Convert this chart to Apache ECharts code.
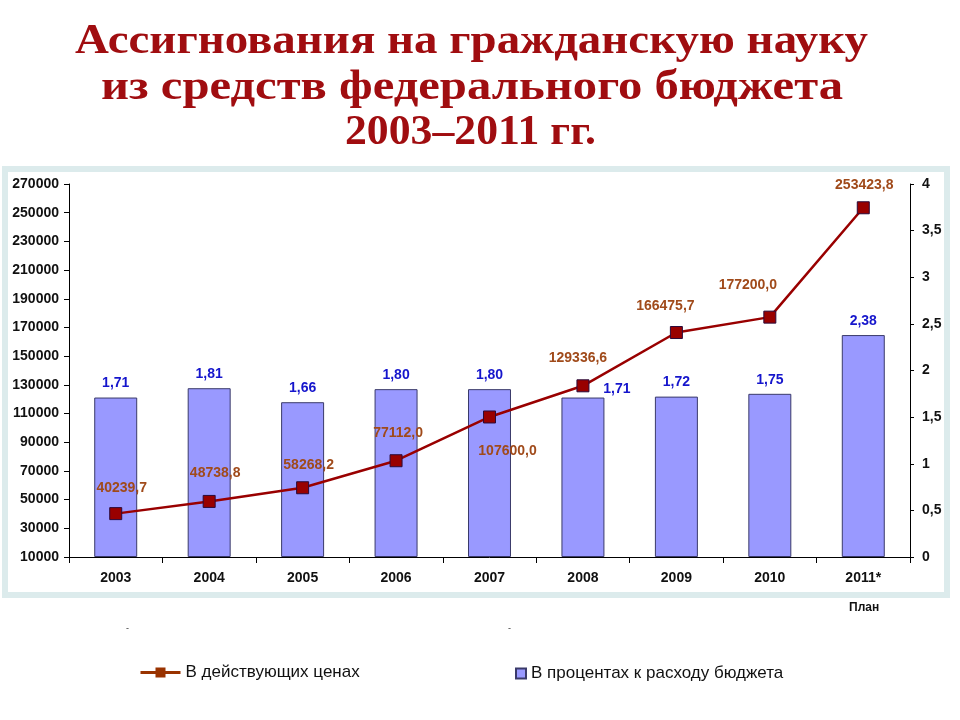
<!DOCTYPE html>
<html>
<head>
<meta charset="utf-8">
<script src="https://cdn.jsdelivr.net/npm/echarts@6/dist/echarts.min.js"></script>
<style>
html,body{margin:0;padding:0;background:#fff;}
#c{width:960px;height:720px;}
</style>
</head>
<body>
<div id="c"></div>
<script>
const years = ['2003','2004','2005','2006','2007','2008','2009','2010','2011*'];
const prices = [40239.7, 48738.8, 58268.2, 77112.0, 107600.0, 129336.6, 166475.7, 177200.0, 253423.8];
const percents = [1.71, 1.81, 1.66, 1.80, 1.80, 1.71, 1.72, 1.75, 2.38];
const lineName = 'В действующих ценах';
const barName = 'В процентах к расходу бюджета';
const titleLines = ['Ассигнования на гражданскую науку', 'из средств федерального бюджета', '2003–2011 гг.'];

// layout / style helpers (not data)
const lineLabelOffsets = [[6,-25],[6,-28],[6,-23],[2,-28],[18,34],[-5,-28],[-11,-26],[-22,-32],[1,-23]];
const barLabelOffsets = [[0,0],[0,0],[0,0],[0,0],[0,0],[34,6],[0,0],[0,0],[0,0]];
const titleY = [42, 88, 133];
const titleX = [471.5, 472, 470.5];
const titleW = [793, 742, 251];
const titleFont = 'bold 43px "Liberation Serif", serif';

const fmt = (v, d) => v.toFixed(d).replace('.', ',');
const mctx = document.createElement('canvas').getContext('2d');
mctx.font = titleFont;

const chart = echarts.init(document.getElementById('c'), null, {renderer:'canvas'});
chart.setOption({
  animation: false,
  backgroundColor: '#ffffff',
  textStyle: {fontFamily: 'Liberation Sans, Arial, sans-serif'},
  graphic: [
    {type:'rect', z:-10, shape:{x:5, y:169, width:942, height:426}, style:{fill:'#ffffff', stroke:'#dcebec', lineWidth:6}},
    {type:'text', left: 849, top: 602, style:{text:'План', fontSize:12, fontWeight:'bold', fill:'#111', fontFamily:'Liberation Sans, Arial, sans-serif'}},
    {type:'text', left: 126, top: 624, style:{text:'-', fontSize:9, fill:'#333'}},
    {type:'text', left: 508, top: 624, style:{text:'-', fontSize:9, fill:'#333'}}
  ].concat(titleLines.map((t,i)=>({
    type:'text', x:titleX[i], y:titleY[i],
    scaleX: titleW[i] / mctx.measureText(t).width,
    style:{text:t, textAlign:'center', textVerticalAlign:'middle', fill:'#a00d10',
      fontFamily:'"Liberation Serif", serif', fontWeight:'bold', fontSize:43}
  }))),
  legend: [
    {data:[{name:lineName, itemStyle:{color:'#993300', borderColor:'#993300'}, lineStyle:{color:'#993300', width:3}}],
     left:134, top:659, itemWidth:40, itemHeight:10, itemGap:5,
     textStyle:{fontSize:17, color:'#111'}},
    {data:[{name:barName, icon:'rect'}], left:510, top:660, itemWidth:10, itemHeight:10,
     textStyle:{fontSize:17, color:'#111'}}
  ],
  grid: {left:69, right:50, top:184, bottom:163},
  xAxis: {
    type:'category',
    data: years,
    boundaryGap: true,
    axisLine:{lineStyle:{color:'#000', width:1}},
    axisTick:{show:true, length:6, alignWithLabel:false, lineStyle:{color:'#000'}},
    axisLabel:{fontSize:14, fontWeight:'bold', color:'#111', margin:14}
  },
  yAxis: [
    {type:'value', min:10000, max:270000, interval:20000, position:'left',
     axisLine:{show:true, lineStyle:{color:'#000'}},
     axisTick:{show:true, length:5, lineStyle:{color:'#000'}},
     splitLine:{show:false},
     axisLabel:{fontSize:14, fontWeight:'bold', color:'#111', margin:10, formatter: v => String(v)}},
    {type:'value', min:0, max:4, interval:0.5, position:'right',
     axisLine:{show:true, lineStyle:{color:'#000'}},
     axisTick:{show:true, length:4, lineStyle:{color:'#000'}},
     splitLine:{show:false},
     axisLabel:{fontSize:14, fontWeight:'bold', color:'#111', margin:12,
       formatter: v => String(v).replace('.', ',')}}
  ],
  series: [
    {
      name: barName,
      type: 'bar',
      yAxisIndex: 1,
      barWidth: '46%',
      z: 2,
      itemStyle:{color:'#9999ff', borderColor:'#3a3a6a', borderWidth:1},
      data: percents.map((v,i)=>({value:v, label:{offset:barLabelOffsets[i]}})),
      label:{show:true, position:'top', distance:7, fontSize:14, fontWeight:'bold', color:'#1515cc',
        formatter: p => fmt(p.value, 2)}
    },
    {
      name: lineName,
      type: 'line',
      yAxisIndex: 0,
      z: 5,
      symbol: 'rect',
      symbolSize: 12,
      lineStyle:{color:'#990000', width:2.5},
      itemStyle:{color:'#990000', borderColor:'#2a0a3a', borderWidth:1},
      data: prices.map((v,i)=>({value:v, label:{offset:lineLabelOffsets[i]}})),
      label:{show:true, position:'inside', fontSize:14, fontWeight:'bold', color:'#a04a1a',
        formatter: p => fmt(p.value, 1)}
    }
  ]
});
</script>
</body>
</html>
